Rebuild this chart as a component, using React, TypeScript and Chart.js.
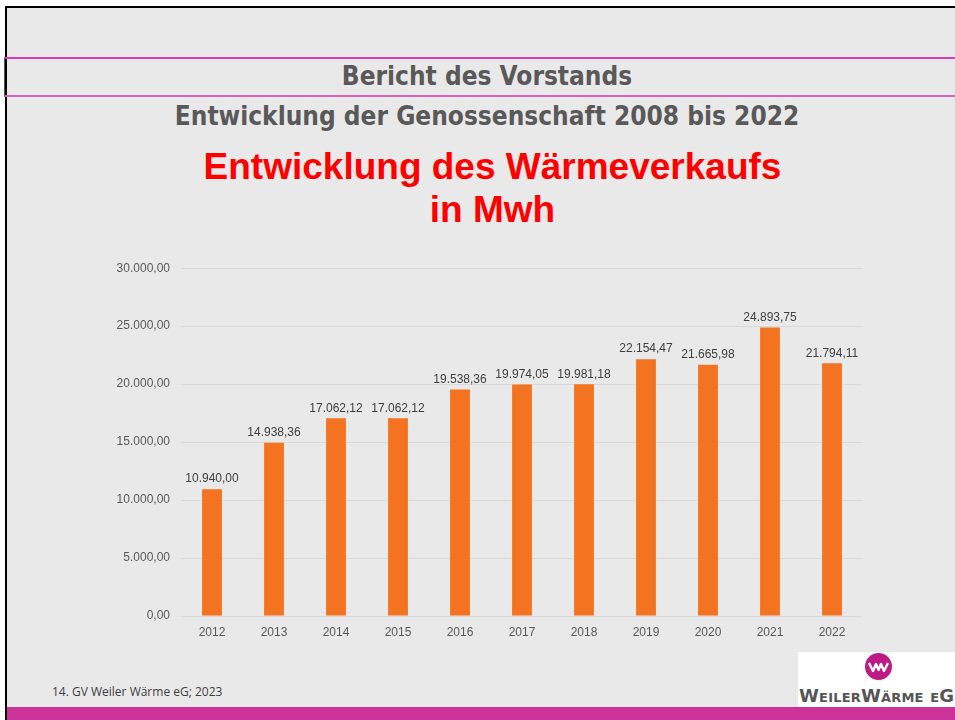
import React, { useEffect, useRef } from "react";
import { Chart, registerables } from "chart.js";

Chart.register(...registerables);

const categories = ["2012", "2013", "2014", "2015", "2016", "2017", "2018", "2019", "2020", "2021", "2022"];
const values = [10940.0, 14938.36, 17062.12, 17062.12, 19538.36, 19974.05, 19981.18, 22154.47, 21665.98, 24893.75, 21794.11];
const yTicks = [0, 5000, 10000, 15000, 20000, 25000, 30000];

const fmt = (v: number) =>
  v.toLocaleString("de-DE", { minimumFractionDigits: 2, maximumFractionDigits: 2 });

const labelPlugin = {
  id: "barLabels",
  afterDatasetsDraw(chart: any) {
    const ctx = chart.ctx;
    const meta = chart.getDatasetMeta(0);
    ctx.save();
    ctx.font = "12px 'Liberation Sans', Arial, sans-serif";
    ctx.fillStyle = "#404040";
    ctx.textAlign = "center";
    ctx.textBaseline = "bottom";
    meta.data.forEach((bar: any, i: number) => {
      ctx.fillText(fmt(values[i]), bar.x, bar.y - 4);
    });
    ctx.restore();
  },
};

function BarChart() {
  const ref = useRef<HTMLCanvasElement | null>(null);
  useEffect(() => {
    if (!ref.current) return;
    const chart = new Chart(ref.current, {
      type: "bar",
      data: {
        labels: categories,
        datasets: [
          {
            data: values,
            backgroundColor: "#f47321",
            barPercentage: 0.32,
            categoryPercentage: 1,
          },
        ],
      },
      options: {
        animation: false,
        responsive: false,
        maintainAspectRatio: false,
        layout: { padding: { top: 18, right: 17, left: 0, bottom: 0 } },
        plugins: { legend: { display: false }, tooltip: { enabled: false }, title: { display: false } },
        scales: {
          x: {
            grid: { display: false },
            border: { display: false },
            ticks: {
              color: "#595959",
              font: { family: "'Liberation Sans', Arial, sans-serif", size: 12 },
              padding: 1,
            },
            afterFit: (s: any) => {
              s.height = 34;
            },
          },
          y: {
            min: 0,
            max: 30000,
            afterBuildTicks: (s: any) => {
              s.ticks = yTicks.map((v) => ({ value: v }));
            },
            grid: { color: "#d9d9d9", drawTicks: false, lineWidth: 1 },
            border: { display: false },
            ticks: {
              color: "#595959",
              font: { family: "'Liberation Sans', Arial, sans-serif", size: 12 },
              padding: 11,
              callback: (v: any) => fmt(Number(v)),
            },
            afterFit: (s: any) => {
              s.width = 91;
            },
          },
        },
      },
      plugins: [labelPlugin],
    });
    return () => chart.destroy();
  }, []);
  return (
    <canvas
      ref={ref}
      width={790}
      height={400}
      style={{ position: "absolute", left: 90, top: 250, width: 790, height: 400 }}
    />
  );
}

export default function App() {
  useEffect(() => {
    document.body.style.margin = "0";
  }, []);
  const grayTitle: React.CSSProperties = {
    position: "absolute",
    left: 7,
    width: 960,
    textAlign: "center",
    color: "#595959",
    fontFamily: "'DejaVu Sans Condensed', 'DejaVu Sans', sans-serif",
    fontWeight: "bold",
    fontSize: 26,
    lineHeight: "30px",
    whiteSpace: "nowrap",
  };
  const redTitle: React.CSSProperties = {
    position: "absolute",
    left: 20,
    width: 945,
    textAlign: "center",
    color: "#ff0000",
    fontFamily: "'Liberation Sans', Arial, sans-serif",
    fontWeight: "bold",
    fontSize: 37,
    lineHeight: "42px",
    whiteSpace: "nowrap",
  };
  return (
    <div style={{ position: "absolute", left: 0, top: 0, width: 955, height: 720, overflow: "hidden", background: "#ffffff" }}>
      <div style={{ position: "absolute", left: 5, top: 6, width: 955, height: 720, background: "#e9e9e9", borderLeft: "2px solid #000", borderTop: "2px solid #000", boxSizing: "border-box" }} />
      <div style={{ position: "absolute", left: 4, top: 57, width: 960, height: 40, borderTop: "2px solid #d63fb4", borderBottom: "2px solid #d863b8", borderLeft: "1px solid #555", boxSizing: "border-box" }} />
      <div style={{ ...grayTitle, top: 61 }}>Bericht des Vorstands</div>
      <div style={{ ...grayTitle, top: 101 }}>Entwicklung der Genossenschaft 2008 bis 2022</div>
      <div style={{ ...redTitle, top: 146 }}>Entwicklung des Wärmeverkaufs</div>
      <div style={{ ...redTitle, top: 189 }}>in Mwh</div>
      <BarChart />
      <div style={{ position: "absolute", left: 52, top: 684, color: "#404040", fontFamily: "'Open Sans', sans-serif", fontSize: 12, lineHeight: "16px", whiteSpace: "nowrap" }}>
        14. GV Weiler Wärme eG; 2023
      </div>
      <div style={{ position: "absolute", left: 798, top: 652, width: 160, height: 55, background: "#ffffff" }}>
        <div style={{ position: "absolute", left: 67, top: 1, width: 27, height: 27, borderRadius: "50%", background: "#be1a84" }}>
          <svg width="27" height="27" style={{ position: "absolute", left: 0, top: 0 }}>
            <polyline points="4,10 8,18 11,11 13.5,17 16,11 19,18 23,10" fill="none" stroke="#ffffff" strokeWidth="2.4" strokeLinejoin="round" />
          </svg>
        </div>
        <div style={{ position: "absolute", left: 1, top: 34, color: "#555555", fontFamily: "'DejaVu Sans', sans-serif", fontSize: 18, fontWeight: "bold", fontVariant: "small-caps", letterSpacing: 0.2, lineHeight: "20px", whiteSpace: "nowrap" }}>
          WeilerWärme eG
        </div>
      </div>
      <div style={{ position: "absolute", left: 7, top: 707, width: 955, height: 13, background: "#cc3399" }} />
    </div>
  );
}
